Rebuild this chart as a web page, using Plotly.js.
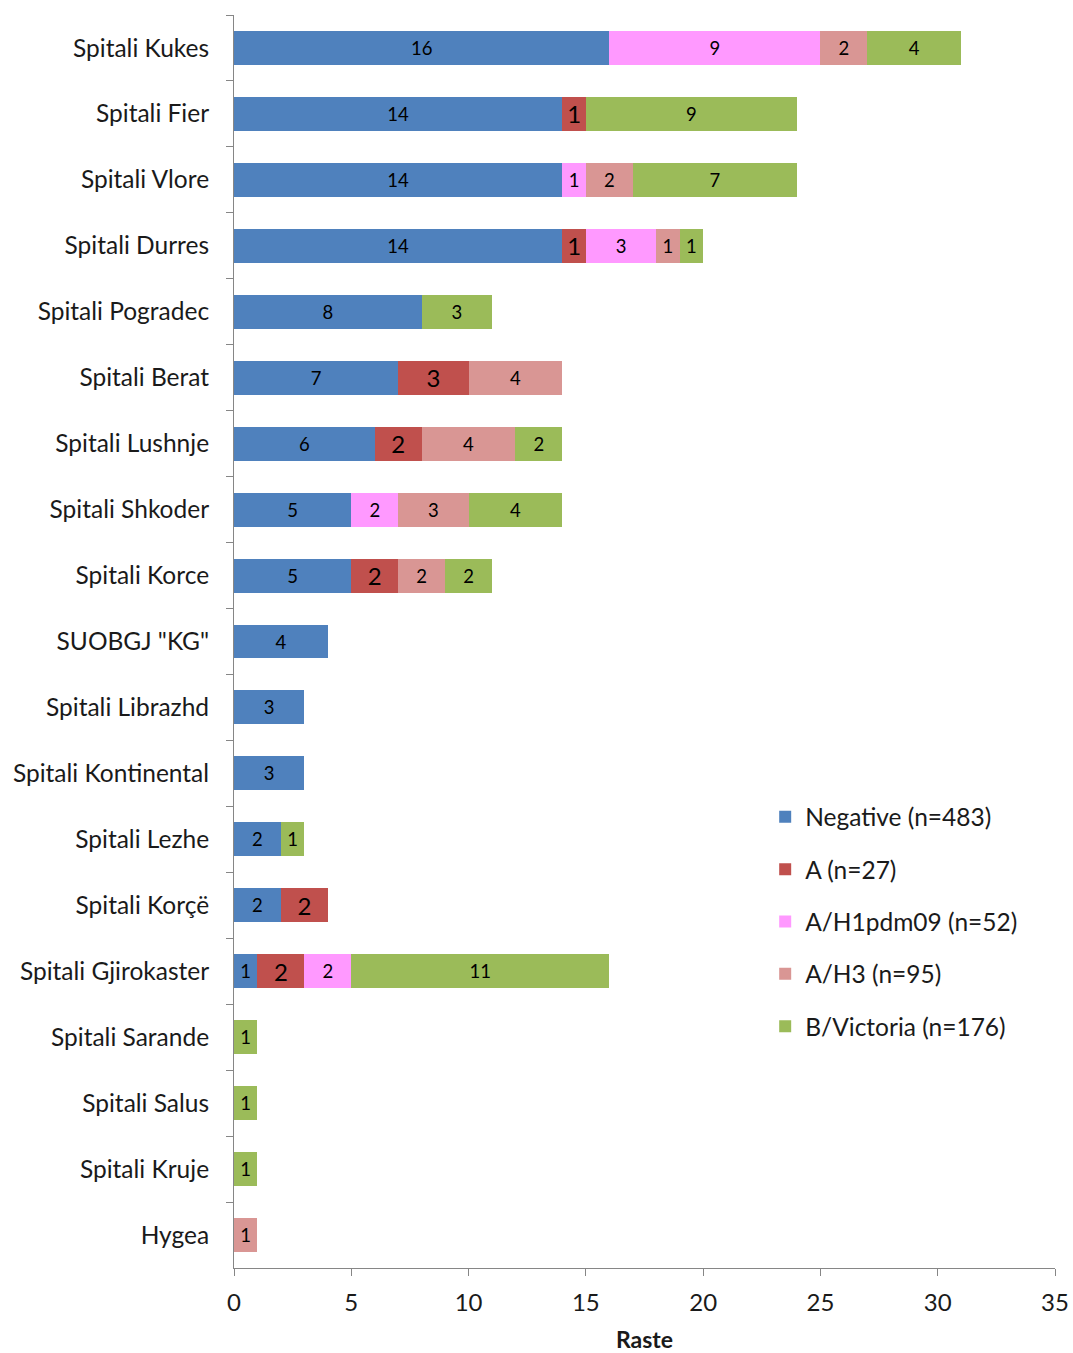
<!DOCTYPE html>
<html>
<head>
<meta charset="utf-8">
<script src="https://cdn.plot.ly/plotly-3.0.1.min.js"></script>
<style>html,body{margin:0;padding:0;background:#fff;}#chart{width:1073px;height:1353px;}</style>
</head>
<body>
<div id="chart"></div>
<script>
const categories = ["Spitali Kukes","Spitali Fier","Spitali Vlore","Spitali Durres","Spitali Pogradec","Spitali Berat","Spitali Lushnje","Spitali Shkoder","Spitali Korce","SUOBGJ \"KG\"","Spitali Librazhd","Spitali Kontinental","Spitali Lezhe","Spitali Korçë","Spitali Gjirokaster","Spitali Sarande","Spitali Salus","Spitali Kruje","Hygea"];
const negative  = [16,14,14,14,8,7,6,5,5,4,3,3,2,2,1,null,null,null,null];
const typeA     = [null,1,null,1,null,3,2,null,2,null,null,null,null,2,2,null,null,null,null];
const h1pdm09   = [9,null,1,3,null,null,null,2,null,null,null,null,null,null,2,null,null,null,null];
const h3        = [2,null,2,1,null,4,4,3,2,null,null,null,null,null,null,null,null,null,1];
const bVictoria = [4,9,7,1,3,null,2,4,2,null,null,null,1,null,11,1,1,1,null];
const seriesNames = ["Negative (n=483)","A (n=27)","A/H1pdm09 (n=52)","A/H3 (n=95)","B/Victoria (n=176)"];
const xTickVals = [0,5,10,15,20,25,30,35];

const colors = ["#4F81BD","#C0504D","#FF99FF","#D99694","#9BBB59"];
const textSizes = [18.5,24,18.5,18.5,18.5];
const FONT = "Lato, 'Open Sans', sans-serif";
const series = [negative, typeA, h1pdm09, h3, bVictoria];

const traces = series.map((vals, i) => ({
  type: "bar",
  orientation: "h",
  name: seriesNames[i],
  legendgroup: "g" + i,
  y: categories,
  x: vals,
  text: vals.map(v => v == null ? "" : String(v)),
  texttemplate: "%{text}",
  textposition: "inside",
  insidetextanchor: "middle",
  textangle: 0,
  constraintext: "none",
  textfont: {family: FONT, size: textSizes[i], color: "#000"},
  marker: {color: colors[i], line: {width: 0}},
  hoverinfo: "skip"
}));

const layout = {
  width: 1073,
  height: 1353,
  margin: {l: 234, r: 18, t: 15, b: 85},
  paper_bgcolor: "#fff",
  plot_bgcolor: "#fff",
  barmode: "stack",
  bargap: 0.485,
  font: {family: FONT, size: 24, color: "#1a1a1a"},
  showlegend: true,
  legend: {
    x: 0.647, y: 0.378, xanchor: "left", yanchor: "top",
    traceorder: "grouped",
    tracegroupgap: 17.5,
    font: {family: FONT, size: 24.5, color: "#1a1a1a"},
    bgcolor: "rgba(0,0,0,0)"
  },
  xaxis: {
    range: [0, 35],
    tickvals: xTickVals,
    ticks: "outside",
    ticklen: 7,
    tickcolor: "#868686",
    showline: true,
    linecolor: "#868686",
    linewidth: 1,
    showgrid: false,
    zeroline: false,
    tickfont: {family: FONT, size: 24, color: "#1a1a1a"},
    ticklabelstandoff: 6,
    title: {text: "<b>Raste</b>", font: {family: FONT, size: 23, color: "#1a1a1a"}, standoff: 20},
    fixedrange: true
  },
  yaxis: {
    type: "category",
    autorange: "reversed",
    tickson: "boundaries",
    ticks: "outside",
    ticklen: 7,
    tickcolor: "#868686",
    showline: true,
    linecolor: "#868686",
    linewidth: 1,
    showgrid: false,
    zeroline: false,
    tickfont: {family: FONT, size: 24.5, color: "#1a1a1a"},
    ticklabelstandoff: 19,
    fixedrange: true
  }
};

Plotly.newPlot("chart", traces, layout, {displayModeBar: false, staticPlot: true});
</script>
</body>
</html>
